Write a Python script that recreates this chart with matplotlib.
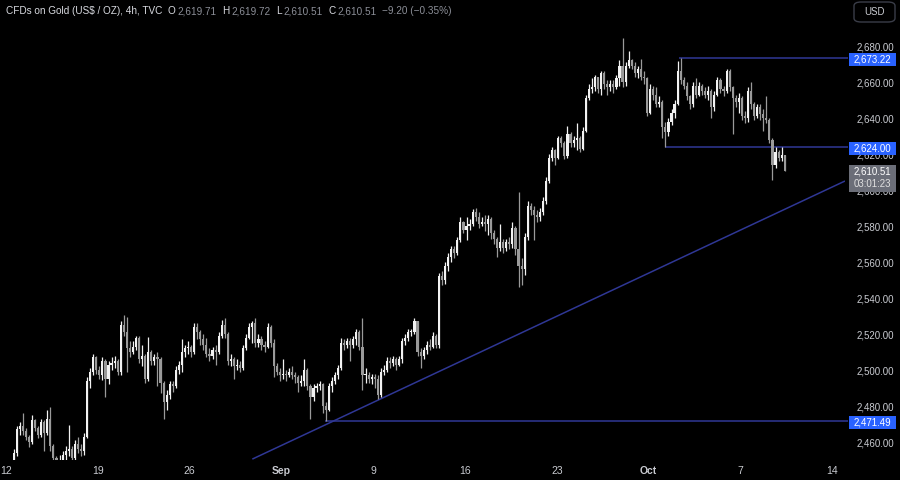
import matplotlib
matplotlib.use("Agg")
import matplotlib.pyplot as plt
from matplotlib.patches import Rectangle, FancyBboxPatch
from matplotlib.ticker import FuncFormatter

plt.rcParams['font.family'] = ['Liberation Sans', 'DejaVu Sans']

# ---------------- data (4h candles, bar index from 12 Aug) ----------------
first_bar = 2
first_open = 2450.0
closes = [
    2454, 2467, 2469, 2466, 2463, 2460, 2472, 2468, 2464, 2471, 2465, 2473, 2458, 2451,
    2446, 2449, 2453, 2455, 2456, 2451, 2459, 2456, 2455, 2463, 2494, 2499, 2507, 2500,
    2497, 2505, 2495, 2503, 2504, 2505, 2499, 2525, 2521, 2512,
    2510, 2513, 2518, 2506, 2508, 2495, 2510, 2505, 2507, 2506,
    2493, 2482, 2486, 2492, 2491, 2500, 2503, 2510, 2512, 2513,
    2510, 2524, 2521, 2517, 2514, 2509, 2508, 2511, 2510, 2519,
    2525, 2520, 2505, 2506, 2502, 2503, 2501, 2512, 2518, 2524,
    2526, 2515, 2517, 2514, 2513, 2524, 2515, 2502, 2499, 2497,
    2498, 2497, 2499, 2497, 2496, 2493, 2494, 2500, 2491, 2485,
    2490, 2491, 2492, 2480, 2478, 2491, 2494, 2497, 2501, 2515,
    2514, 2516, 2514, 2517, 2521, 2513, 2497, 2497, 2495, 2496,
    2495, 2486, 2499, 2500, 2505, 2504, 2506, 2503, 2506, 2516,
    2518, 2521, 2521, 2527, 2510, 2508, 2511, 2514, 2513, 2519,
    2514, 2552,
    2550, 2558, 2563, 2567, 2565, 2572, 2582, 2578, 2580, 2581,
    2588, 2585, 2581, 2582, 2581, 2584, 2576, 2573, 2568, 2571,
    2568, 2571, 2570, 2579, 2567, 2558, 2556, 2574, 2591, 2589,
    2586, 2585, 2588, 2594, 2605, 2618, 2622, 2618, 2629, 2626,
    2619, 2631, 2626, 2628, 2629, 2623, 2633, 2651, 2656, 2657,
    2663, 2656, 2665, 2659, 2657, 2659, 2657, 2662, 2669, 2660,
    2669, 2672, 2669, 2665, 2667, 2663, 2662, 2643, 2656, 2653,
    2648, 2649, 2635, 2632, 2638, 2643, 2648, 2666, 2661,
    2658, 2652, 2648, 2658, 2653, 2658, 2655, 2653, 2655, 2646,
    2653, 2661, 2656, 2655, 2666, 2657, 2651, 2649, 2651, 2641,
    2640, 2655, 2648, 2641, 2646, 2642, 2640, 2639, 2628, 2614,
    2621, 2618, 2619.71, 2610.51,
]
highs = [
    2456, 2469, 2471, 2476, 2468, 2464, 2475, 2473, 2469, 2473, 2472, 2478, 2479.6, 2459,
    2452, 2453, 2455, 2458, 2469.5, 2458, 2461, 2463, 2459, 2465, 2496, 2501, 2509, 2508,
    2502, 2507, 2506, 2505, 2507, 2508, 2506, 2527, 2530.6, 2529.6,
    2516, 2516, 2519, 2519, 2514, 2509, 2518.5, 2511, 2509, 2510,
    2507, 2494, 2489, 2494, 2494, 2502, 2505, 2517, 2514, 2516,
    2514, 2526, 2526, 2522, 2520, 2518, 2512, 2513, 2514, 2521,
    2528, 2529, 2521, 2509, 2507, 2506, 2505, 2514, 2520, 2526,
    2527, 2529, 2520, 2519, 2516, 2526, 2525, 2517, 2504, 2501,
    2506, 2500, 2501, 2502, 2499, 2497, 2497, 2506, 2501, 2492,
    2492, 2493, 2494, 2493, 2482, 2493, 2496, 2499, 2503, 2518,
    2517, 2518, 2518, 2519, 2523, 2522, 2528.7, 2501, 2499, 2498,
    2498, 2497, 2501, 2503, 2507, 2507, 2508, 2507, 2508, 2518,
    2520, 2523, 2523, 2529, 2527, 2512, 2513, 2516, 2517, 2521,
    2520, 2554,
    2555, 2560, 2565, 2569, 2569, 2574, 2585, 2583, 2585, 2584,
    2589.5, 2590, 2588, 2585, 2586, 2586, 2585, 2578, 2574, 2581,
    2573, 2573, 2574, 2582, 2580, 2599, 2562, 2576, 2594, 2593,
    2591, 2589, 2590, 2596, 2607, 2620, 2624, 2623, 2630, 2630,
    2627, 2635.6, 2632, 2630, 2637, 2630, 2635, 2653, 2659, 2662,
    2664, 2663, 2666, 2666, 2661, 2661, 2661, 2664, 2672, 2684.3,
    2671, 2677, 2673, 2671, 2669, 2673, 2666, 2663, 2659, 2658,
    2657, 2652, 2650, 2638, 2640, 2645, 2650, 2671.7, 2673.22,
    2663, 2660, 2653, 2660, 2662, 2660, 2659, 2657, 2658, 2656,
    2655, 2663, 2662, 2658, 2667, 2667, 2658, 2653, 2654, 2652,
    2644, 2657, 2660, 2649, 2648, 2648, 2645, 2652, 2640, 2629,
    2624, 2622, 2624, 2619.72,
]
lows = [
    2449, 2452, 2464, 2464, 2461, 2457, 2459, 2466, 2462, 2463, 2455, 2464, 2455, 2447,
    2440, 2443, 2447, 2450, 2452, 2447, 2450, 2454, 2452, 2453, 2462, 2490, 2497, 2498,
    2495, 2494.5, 2485, 2492, 2500, 2501, 2497, 2497, 2519, 2499,
    2507, 2509, 2511, 2504, 2502, 2493, 2494, 2503, 2503, 2491,
    2487, 2473, 2478, 2484, 2488, 2490, 2498, 2499, 2507, 2509,
    2507, 2509, 2517, 2514, 2511, 2507, 2505, 2506, 2503, 2509,
    2518, 2518, 2503, 2502, 2495, 2500, 2499, 2500, 2511, 2517,
    2515, 2513, 2513, 2511, 2510, 2512, 2513, 2496, 2497, 2494,
    2495, 2494, 2496, 2495, 2493, 2488, 2491, 2491, 2489, 2473,
    2483, 2488, 2489, 2476, 2471.49, 2477, 2488, 2492, 2495, 2500,
    2511, 2512, 2505, 2512, 2514, 2511, 2489, 2493, 2493, 2492,
    2490, 2484, 2485, 2497, 2499, 2501, 2502, 2500, 2502, 2504,
    2514, 2516, 2519, 2520, 2508, 2501, 2506, 2509, 2511, 2512,
    2512, 2512,
    2547, 2548, 2555, 2560, 2562, 2564, 2571, 2576, 2572, 2578,
    2580, 2583, 2579, 2580, 2577, 2575, 2573, 2570, 2563, 2566,
    2565, 2566, 2567, 2568, 2564, 2546, 2547, 2553, 2572, 2586,
    2572, 2582, 2583, 2586, 2592, 2604, 2616, 2614, 2617, 2624,
    2617, 2618, 2624, 2624, 2622, 2621, 2622, 2632, 2650, 2654,
    2655, 2654, 2653, 2656, 2653, 2655, 2654, 2656, 2658, 2657,
    2658, 2668, 2667, 2663, 2662, 2661, 2659, 2641, 2642, 2650,
    2646, 2646, 2629, 2624, 2630, 2636, 2640, 2647, 2659,
    2656, 2650, 2645, 2646, 2651, 2652, 2653, 2651, 2650, 2640,
    2644, 2652, 2654, 2652, 2654, 2655, 2631, 2646, 2643, 2639,
    2637, 2638, 2645, 2639, 2640, 2639, 2633, 2637, 2626, 2605.6,
    2612, 2616, 2616, 2610.51,
]

week_labels = ["12", "19", "26", "Sep", "9", "16", "23", "Oct", "7", "14"]
bold_labels = ["Sep", "Oct"]
bars_per_week = 30
price_ticks = list(range(2460, 2681, 20))

levels = [2673.22, 2624.00, 2471.49]
level_start_bars = [219.4, 214.9, 103.7]
trend_bars = [80.0, 273.7]
trend_prices = [2450.5, 2605.0]

last_price = 2610.51
countdown = "03:01:23"
title = "CFDs on Gold (US$ / OZ), 4h, TVC"
ohlc_letters = ["O", "H", "L", "C"]
ohlc_values = ["2,619.71", "2,619.72", "2,610.51", "2,610.51"]
change_text = "\u22129.20 (\u22120.35%)"
currency = "USD"

# ---------------- styling ----------------
BG = "#000000"
UP = "#f2f2f2"
DOWN = "#9a9a9a"
LINE = "#2f3795"
BLUE = "#2962ff"
GREY_BOX = "#6b6e78"
TXT = "#c9cbd1"
W, H = 900, 480

fig = plt.figure(figsize=(9, 4.8), dpi=100, facecolor=BG)
ax = fig.add_axes([0, 20 / H, 845 / W, 460 / H], facecolor=BG)

n = len(closes)
idx = list(range(first_bar, first_bar + n))
opens = [first_open] + closes[:-1]

up_x, up_b, up_h = [], [], []
dn_x, dn_b, dn_h = [], [], []
for i, o, c in zip(idx, opens, closes):
    bottom = min(o, c)
    height = max(abs(c - o), 0.6)
    if c >= o:
        up_x.append(i); up_b.append(bottom); up_h.append(height)
    else:
        dn_x.append(i); dn_b.append(bottom); dn_h.append(height)

wick_colors = [UP if c >= o else DOWN for o, c in zip(opens, closes)]
ax.vlines(idx, lows, highs, colors=wick_colors, linewidth=0.9, zorder=2)
ax.bar(up_x, up_h, bottom=up_b, width=0.7, color=UP, linewidth=0, zorder=3)
ax.bar(dn_x, dn_h, bottom=dn_b, width=0.7, color=DOWN, linewidth=0, zorder=3)

xmin, xmax = -2.46, 273.7
ax.set_xlim(xmin, xmax)
ax.set_ylim(2450, 2705.56)

# drawings
ax.plot(trend_bars, trend_prices, color=LINE, linewidth=1.1, zorder=1, solid_capstyle='butt')
for lv, st in zip(levels, level_start_bars):
    ax.hlines(lv, st, 274.6, colors=LINE, linewidth=1.1, zorder=1, clip_on=False)

# axes cosmetics
for s in ax.spines.values():
    s.set_visible(False)
ax.yaxis.tick_right()
ax.set_yticks(price_ticks)
ax.yaxis.set_major_formatter(FuncFormatter(lambda v, p: f"{v:,.2f}"))
ax.tick_params(axis='y', length=0, pad=8.6, labelsize=7, labelcolor=TXT)
ax.set_xticks([bars_per_week * k - 0.5 for k in range(len(week_labels))])
ax.set_xticklabels(week_labels)
ax.tick_params(axis='x', length=0, pad=4.5, labelsize=7.5, labelcolor=TXT)
for lab in ax.get_xticklabels():
    if lab.get_text() in bold_labels:
        lab.set_fontweight('bold')

fig.canvas.draw()
renderer = fig.canvas.get_renderer()


def ypix(p):
    return ax.transData.transform((0, p))[1]


# price labels on scale
bx0, bx1 = 849, 896
for lv in levels:
    yc = ypix(lv) - 1.5
    fig.patches.append(Rectangle((bx0 / W, (yc - 6.5) / H), (bx1 - bx0) / W, 13 / H,
                                 transform=fig.transFigure, facecolor=BLUE, edgecolor='none', zorder=5))
    fig.text((bx0 + bx1) / 2 / W, yc / H, f"{lv:,.2f}", color="white", fontsize=7,
             ha='center', va='center', zorder=6)

yp = ypix(last_price)
fig.patches.append(Rectangle((bx0 / W, (yp - 21) / H), (bx1 - bx0) / W, 27 / H,
                             transform=fig.transFigure, facecolor=GREY_BOX, edgecolor='none', zorder=5))
fig.text((bx0 + bx1) / 2 / W, (yp - 0.5) / H, f"{last_price:,.2f}", color="white", fontsize=7,
         ha='center', va='center', zorder=6)
fig.text((bx0 + bx1) / 2 / W, (yp - 13) / H, countdown, color="#e0e0e0", fontsize=7,
         ha='center', va='center', zorder=6)

# currency button
fig.patches.append(FancyBboxPatch((854 / W, (H - 22) / H), 41 / W, 20 / H,
                                  boxstyle="round,pad=0,rounding_size=0.008",
                                  transform=fig.transFigure, facecolor=BG,
                                  edgecolor="#3a3d48", linewidth=1.0, zorder=5))
fig.text(874.5 / W, (H - 12) / H, currency, color=TXT, fontsize=7, ha='center', va='center', zorder=6)

# header line
pieces = [(title, "#d8dae0", 5.5)]
for let, val in zip(ohlc_letters, ohlc_values):
    pieces.append((let, "#d8dae0", 1.5))
    pieces.append((val, "#8c8f98", 6.0))
pieces.append((change_text, "#8c8f98", 0))
x = 6.0
yb = (H - 14) / H
for s, col, gap in pieces:
    t = fig.text(x / W, yb, s, color=col, fontsize=7.2, ha='left', va='baseline', zorder=6)
    bb = t.get_window_extent(renderer)
    x = bb.x1 + gap

fig.savefig("out.png", dpi=100, facecolor=BG)
